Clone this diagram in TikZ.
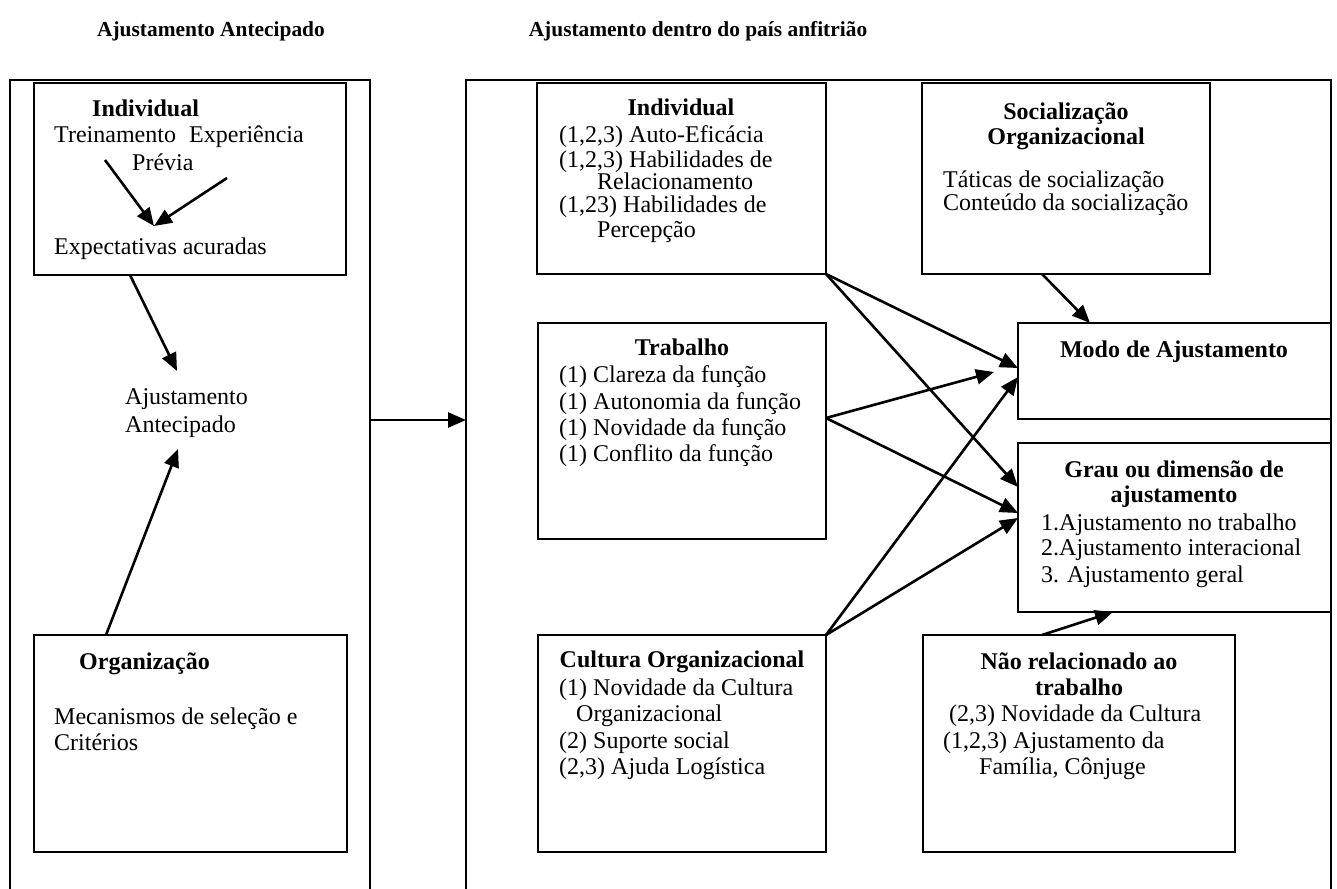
\documentclass[tikz,border=0pt]{standalone}
\usepackage{fontspec}
\setmainfont{Liberation Serif}
\usetikzlibrary{arrows.meta,calc}
\begin{document}
\begin{tikzpicture}[x=1pt,y=-1pt,
  frame/.style={draw, line width=2.3pt, inner sep=0pt, outer sep=0pt, anchor=north west},
  panel/.style={draw, line width=2.2pt, inner sep=0pt, outer sep=0pt, anchor=north west},
  lbl/.style={anchor=base west, inner sep=0pt, font=\fontsize{24}{28}\selectfont},
  ttl/.style={anchor=base, inner sep=0pt, font=\fontsize{24}{28}\selectfont\bfseries},
  ttll/.style={anchor=base west, inner sep=0pt, font=\fontsize{24}{28}\selectfont\bfseries},
  hdr/.style={anchor=base, inner sep=0pt, font=\fontsize{21.4}{25}\selectfont\bfseries},
  arr/.style={line width=2.6pt, -{Triangle[length=18pt,width=15pt]}}]
\useasboundingbox (0,0) rectangle (1337,888);
\clip (0,0) rectangle (1337,888);

% column headings
\node[hdr] (headA) at (211,37) {Ajustamento Antecipado};
\node[hdr] (headB) at (698,37) {Ajustamento dentro do país anfitrião};

% the two containers (open at the bottom of the page)
\node[frame, minimum width=360pt, minimum height=840pt] (outerL) at (10,80) {};
\node[frame, minimum width=865pt, minimum height=840pt] (outerR) at (466,80) {};

% left column boxes
\node[panel, minimum width=312pt, minimum height=192pt] (indL) at (34,83) {};
\node[panel, minimum width=313pt, minimum height=217pt] (orgL) at (34,635) {};

% right column boxes
\node[panel, minimum width=289pt, minimum height=191pt] (indM) at (537,83) {};
\node[panel, minimum width=288pt, minimum height=191pt] (socM) at (922,83) {};
\node[panel, minimum width=288pt, minimum height=216pt] (trabM) at (538,323) {};
\node[panel, minimum width=313pt, minimum height=96pt] (modo) at (1018,323) {};
\node[panel, minimum width=313pt, minimum height=169pt] (grau) at (1018,443) {};
\node[panel, minimum width=288pt, minimum height=217pt] (cult) at (538,635) {};
\node[panel, minimum width=312pt, minimum height=217pt] (nao) at (923,635) {};

% left column texts
\node[ttll] (indLt) at (92,117) {Individual};
\node[lbl] (indL1) at (54,142) {Treinamento};
\node[lbl] (indL2) at (189,142) {Experiência};
\node[lbl] (indL3) at (132,170) {Prévia};
\node[lbl] (indL4) at (54,254) {Expectativas acuradas};
\node[lbl] (ajL1) at (125,404) {Ajustamento};
\node[lbl] (ajL2) at (125,432) {Antecipado};
\node[ttll] (orgLt) at (79,669) {Organização};
\node[lbl] (orgL1) at (54,724) {Mecanismos de seleção e};
\node[lbl] (orgL2) at (54,750) {Critérios};

% right column texts
\node[ttl] (indMt) at (681,116) {Individual};
\node[lbl] (indM1) at (559,142) {(1,2,3) Auto-Eficácia};
\node[lbl] (indM2) at (559,167) {(1,2,3) Habilidades de};
\node[lbl] (indM3) at (597,189) {Relacionamento};
\node[lbl] (indM4) at (559,212) {(1,23) Habilidades de};
\node[lbl] (indM5) at (597,237) {Percepção};

\node[ttl] (socMt1) at (1066,119) {Socialização};
\node[ttl] (socMt2) at (1066,144) {Organizacional};
\node[lbl] (socM1) at (943,187) {Táticas de socialização};
\node[lbl] (socM2) at (943,210) {Conteúdo da socialização};

\node[ttl] (trabMt) at (682,355) {Trabalho};
\node[lbl] (trabM1) at (559,382) {(1) Clareza da função};
\node[lbl] (trabM2) at (559,409) {(1) Autonomia da função};
\node[lbl] (trabM3) at (559,435) {(1) Novidade da função};
\node[lbl] (trabM4) at (559,461) {(1) Conflito da função};

\node[ttl] (modot) at (1174,357) {Modo de Ajustamento};

\node[ttl] (graut1) at (1174,477) {Grau ou dimensão de};
\node[ttl] (graut2) at (1174,502) {ajustamento};
\node[lbl] (grau1) at (1041,530) {1.Ajustamento no trabalho};
\node[lbl] (grau2) at (1041,555) {2.Ajustamento interacional};
\node[lbl] (grau3) at (1041,582) {3. Ajustamento geral};

\node[ttl] (cultt) at (682,667) {Cultura Organizacional};
\node[lbl] (cult1) at (559,695) {(1) Novidade da Cultura};
\node[lbl] (cult2) at (576,721) {Organizacional};
\node[lbl] (cult3) at (559,748) {(2) Suporte social};
\node[lbl] (cult4) at (559,774) {(2,3) Ajuda Logística};

\node[ttl] (naot1) at (1079,669) {Não relacionado ao};
\node[ttl] (naot2) at (1079,695) {trabalho};
\node[lbl] (nao1) at (949,721) {(2,3) Novidade da Cultura};
\node[lbl] (nao2) at (943,748) {(1,2,3) Ajustamento da};
\node[lbl] (nao3) at (979,774) {Família, Cônjuge};

% free ends of the left-column connectors
\coordinate (trStart) at (105,160);
\coordinate (exStart) at (227,178);
\coordinate (expTop) at (154,226);
\coordinate (ajTop) at (177,371);
\coordinate (ajBot) at (178,449);
\coordinate (lvl) at (0,420);

% left column connectors
\draw[arr] (trStart) -- (expTop);
\draw[arr] (exStart) -- (expTop);
\draw[arr] ($(indL.south west)+(96,0)$) -- (ajTop);
\draw[arr] ($(orgL.north west)+(72,0)$) -- (ajBot);
\draw[arr] (outerL.east |- lvl) -- (outerR.west |- lvl);

% right column connectors
\draw[arr] ($(socM.south west)+(120,0)$) -- ($(modo.north west)+(72,0)$);
\draw[arr] (indM.south east) -- ($(modo.north west)+(0,45)$);
\draw[arr] (indM.south east) -- ($(grau.north west)+(0,44)$);
\draw[arr] ($(trabM.north east)+(0,95)$) -- ($(modo.north west)+(-24,49)$);
\draw[arr] ($(trabM.north east)+(0,95)$) -- ($(grau.north west)+(0,70)$);
\draw[arr] (cult.north east) -- ($(modo.north west)+(0,54)$);
\draw[arr] (cult.north east) -- ($(grau.north west)+(0,75)$);
\draw[arr] ($(nao.north west)+(119,0)$) -- ($(grau.south west)+(95,0)$);
\end{tikzpicture}
\end{document}
